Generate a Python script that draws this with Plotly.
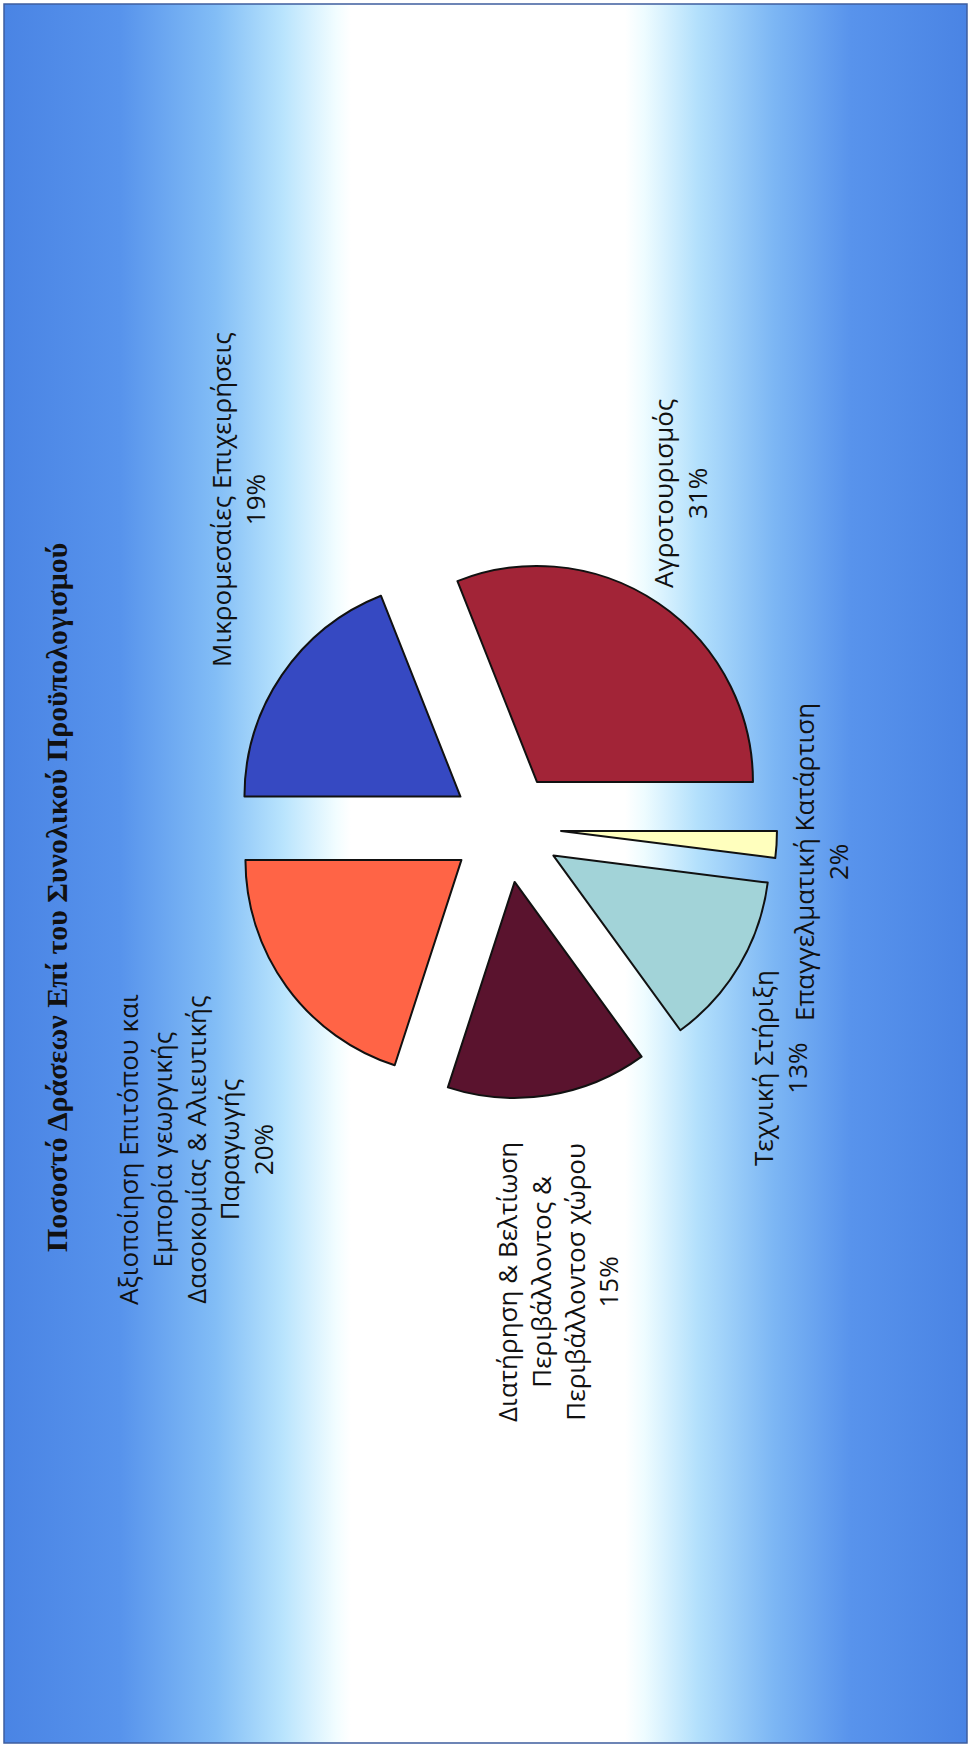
import base64
import plotly.graph_objects as go

# Budget share per action (percent), listed clockwise from 3 o'clock
actions = [
    "Επαγγελματική Κατάρτιση",
    "Τεχνική Στήριξη",
    "Διατήρηση & Βελτίωση Περιβάλλοντος & Περιβάλλοντοσ χώρου",
    "Αξιοποίηση Επιτόπου και Εμπορία γεωργικής Δασοκομίας & Αλιευτικής Παραγωγής",
    "Μικρομεσαίες Επιχειρήσεις",
    "Αγροτουρισμός",
]
shares = [2, 13, 15, 20, 19, 31]

# Wrapped label lines for each action (percent appended below)
label_lines = [
    ["Επαγγελματική Κατάρτιση"],
    ["Τεχνική Στήριξη"],
    ["Διατήρηση & Βελτίωση", "Περιβάλλοντος &", "Περιβάλλοντοσ χώρου"],
    ["Αξιοποίηση Επιτόπου και", "Εμπορία γεωργικής", "Δασοκομίας & Αλιευτικής", "Παραγωγής"],
    ["Μικρομεσαίες Επιχειρήσεις"],
    ["Αγροτουρισμός"],
]
slice_colors = ["#FFFFBE", "#A2D3D8", "#5A132E", "#FF6446", "#3649C2", "#A22437"]

title_text = "Ποσοστό Δράσεων Επί του Συνολικού Προϋπολογισμού"

W, H = 971, 1747

# Label centres in pixels (page is laid out rotated a quarter turn)
label_pos = [(821, 862), (780, 1068), (557, 1282), (195, 1150), (238, 500), (680, 494)]

# Horizontal blue-white-blue backdrop as an SVG gradient
stops = [
    (0.00, "#4A84E4"), (0.12, "#5793EC"), (0.22, "#82BDF6"), (0.29, "#B9E4FD"),
    (0.345, "#F2FDFF"), (0.36, "#FFFFFF"), (0.645, "#FFFFFF"), (0.665, "#EEFCFF"),
    (0.72, "#B3E0FC"), (0.80, "#7CB6F4"), (0.88, "#5893EC"), (1.00, "#4A84E4"),
]
stop_xml = "".join(f'<stop offset="{o}" stop-color="{c}"/>' for o, c in stops)
svg = (
    f'<svg xmlns="http://www.w3.org/2000/svg" width="{W}" height="{H}" '
    f'viewBox="0 0 {W} {H}" preserveAspectRatio="none">'
    f'<defs><linearGradient id="g" x1="0" y1="0" x2="1" y2="0">{stop_xml}</linearGradient></defs>'
    f'<rect x="0" y="0" width="{W}" height="{H}" fill="url(#g)"/></svg>'
)
bg_uri = "data:image/svg+xml;base64," + base64.b64encode(svg.encode("utf-8")).decode("ascii")

fig = go.Figure()

# Exploded pie: centre (506, 827) px, radius ~216 px, pull 0.255
cx, cy, r, pull = 506, 827.5, 216, 0.255
half = r * (1 + pull)
fig.add_trace(go.Pie(
    labels=actions,
    values=shares,
    sort=False,
    direction="clockwise",
    rotation=90,
    pull=[pull] * len(shares),
    marker=dict(colors=slice_colors, line=dict(color="#111111", width=2)),
    textinfo="none",
    hoverinfo="skip",
    showlegend=False,
    domain=dict(
        x=[(cx - half) / W, (cx + half) / W],
        y=[1 - (cy + half) / H, 1 - (cy - half) / H],
    ),
))

annotations = []
for lines, share, (px, py) in zip(label_lines, shares, label_pos):
    annotations.append(dict(
        text="<br>".join(lines + [f"{share}%"]),
        x=px / W, y=1 - py / H, xref="paper", yref="paper",
        xanchor="center", yanchor="middle",
        textangle=-90, showarrow=False, align="center",
        font=dict(family="Open Sans", size=26, color="#111111"),
    ))

annotations.append(dict(
    text=f"<b>{title_text}</b>",
    x=56 / W, y=1 - 898 / H, xref="paper", yref="paper",
    xanchor="center", yanchor="middle",
    textangle=-90, showarrow=False,
    font=dict(family="Liberation Serif", size=30, color="#111111"),
))

fig.update_layout(
    width=W, height=H,
    margin=dict(l=0, r=0, t=0, b=0),
    paper_bgcolor="#FFFFFF",
    plot_bgcolor="rgba(0,0,0,0)",
    images=[dict(
        source=bg_uri, xref="paper", yref="paper",
        x=4 / W, y=1 - 4 / H, sizex=963 / W, sizey=1739 / H,
        xanchor="left", yanchor="top", sizing="stretch", layer="below",
    )],
    shapes=[dict(
        type="rect", xref="paper", yref="paper",
        x0=4 / W, x1=967 / W, y0=4 / H, y1=1 - 4 / H,
        line=dict(color="#3E5E9E", width=1.5), fillcolor="rgba(0,0,0,0)",
    )],
    annotations=annotations,
)

fig.write_html("out.html")
